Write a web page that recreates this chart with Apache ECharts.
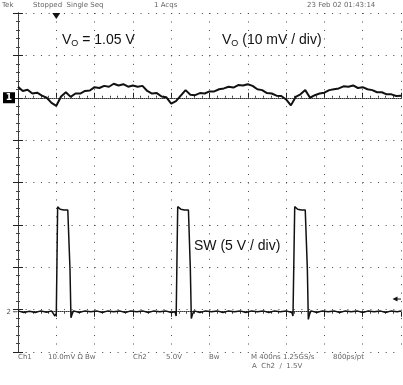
<!DOCTYPE html>
<html><head><meta charset="utf-8">
<script src="https://cdn.jsdelivr.net/npm/echarts@6/dist/echarts.min.js"></script>
<style>html,body{margin:0;padding:0;background:#fff}#c{width:403px;height:385px}</style>
</head><body><div id="c"></div>
<script>
// Time base: 400 ns / div, 10 divisions
const timeMinNs = 0, timeMaxNs = 4000, timeDivNs = 400;
// Ch1: Vo ripple (AC, mV), 10 mV/div
const voTimeNs = [0,50,100,150,200,250,300,350,400,450,500,550,600,650,700,750,800,850,900,950,
  1000,1050,1100,1150,1200,1250,1300,1350,1400,1450,1500,1550,1600,1650,1700,1750,1800,1850,1900,1950,
  2000,2050,2100,2150,2200,2250,2300,2350,2400,2450,2500,2550,2600,2650,2700,2750,2800,2850,2900,2950,
  3000,3050,3100,3150,3200,3250,3300,3350,3400,3450,3500,3550,3600,3650,3700,3750,3800,3850,3900,3950,4000];
const voMv = [2.6,1.6,1.9,1.0,1.2,0.5,0.0,-1.2,-1.9,0.3,1.3,0.2,1.0,1.0,1.6,1.7,2.5,2.3,2.8,2.6,
  3.3,2.9,3.2,2.6,2.9,2.6,2.8,1.6,1.0,1.1,0.3,0.1,-1.4,-0.8,0.5,1.8,0.7,0.6,1.1,1.0,
  1.5,1.5,2.0,2.2,2.6,2.4,3.0,2.9,3.2,2.8,2.0,1.8,1.1,1.0,0.5,0.4,-0.4,-1.8,0.2,0.8,
  1.8,0.0,0.6,1.0,1.2,1.8,2.0,2.2,2.7,2.6,2.9,2.3,2.5,2.0,1.8,1.3,1.3,0.8,0.8,0.4,0.5];
// Ch2: switch node (V), 5 V/div
const swTimeNs = [0,60,120,180,240,300,350,386,400,407,414,440,480,520,532,543,553,565,580,640,
  700,760,820,880,940,1000,1060,1120,1180,1240,1300,1360,1420,1480,1540,1600,1640,1652,1660,1668,
  1700,1740,1780,1790,1800,1810,1822,1840,1900,1960,2020,2080,2140,2200,2260,2320,2380,2440,2500,2560,
  2620,2680,2740,2800,2860,2872,2881,2890,2920,2960,3000,3012,3022,3032,3045,3060,3120,3180,3240,3300,
  3360,3420,3480,3540,3600,3660,3720,3780,3840,3900,3960,4000];
const swVolt = [0.1,-0.1,0.05,-0.1,0.1,-0.05,0.1,-0.5,-0.2,6.0,12.4,12.1,12.0,12.0,11.9,5.0,-0.7,-0.3,0.1,-0.1,
  0.1,0.0,0.1,-0.1,0.1,0.0,0.1,-0.1,0.1,0.0,0.1,-0.1,0.1,0.0,0.1,-0.1,0.0,-0.5,6.0,12.4,
  12.1,12.0,12.0,11.9,5.0,-0.8,-0.3,0.1,-0.1,0.1,0.0,0.1,-0.1,0.1,0.0,0.1,-0.1,0.1,0.0,0.1,
  -0.1,0.1,0.0,0.1,-0.1,-0.5,6.0,12.4,12.1,12.0,12.0,11.9,5.0,-0.9,-0.3,0.1,-0.1,0.1,0.0,0.1,
  -0.1,0.1,0.0,0.1,-0.1,0.1,0.0,0.1,-0.1,0.1,0.0,0.1];
const ch1Min = -60, ch1Max = 20, ch1Div = 10;
const ch2Min = -4.75, ch2Max = 35.25, ch2Div = 5;
const trigLevelV = 1.5, trigPosNs = 400;

const headerTexts = [['Tek',2],['Stopped  Single Seq',33],['1 Acqs',154],['23 Feb 02 01:43:14',307]];
const footer1 = [['Ch1',18],['10.0mV \u03A9 Bw',48],['Ch2',133],['5.0V',166],['Bw',209],['M 400ns 1.25GS/s',251],['800ps/pt',333]];
const footer2 = [['A  Ch2  /  1.5V',252]];

const voData = voTimeNs.map((t,i)=>[t, voMv[i]]);
const swData = swTimeNs.map((t,i)=>[t, swVolt[i]]);

const frameLine = {show:true, lineStyle:{color:'#333', width:1, type:[1,1]}};
const majTick = {show:true, inside:true, length:5, lineStyle:{color:'#222'}};
const minTick = {show:true, splitNumber:5, length:2, lineStyle:{color:'#444'}};
const small = {fontFamily:'DejaVu Sans', fontSize:7, fill:'#666'};

const graphic = [];
headerTexts.forEach(([t,x])=>graphic.push({type:'text', left:x, top:2, style:Object.assign({text:t}, small)}));
footer1.forEach(([t,x])=>graphic.push({type:'text', left:x, top:354, style:Object.assign({text:t}, small)}));
footer2.forEach(([t,x])=>graphic.push({type:'text', left:x, top:363, style:Object.assign({text:t}, small)}));
const rich = {a:{fontSize:14, fontFamily:'Liberation Sans', fill:'#111'}, s:{fontSize:9, fontFamily:'Liberation Sans', fill:'#111', padding:[7,0,0,0]}};
graphic.push({type:'text', left:62, top:33, style:{text:'{a|V}{s|O}{a| = 1.05 V}', rich:rich}});
graphic.push({type:'text', left:222, top:33, style:{text:'{a|V}{s|O}{a| (10 mV / div)}', rich:rich}});
graphic.push({type:'text', left:194, top:239, style:{text:'SW (5 V / div)', font:'14px "Liberation Sans"', fill:'#111'}});

const chart = echarts.init(document.getElementById('c'), null, {renderer:'canvas'});
chart.setOption({
  animation:false,
  backgroundColor:'#fff',
  grid:{left:18, top:13, width:383, height:339, containLabel:false},
  xAxis:[
    {type:'value', min:timeMinNs, max:timeMaxNs, interval:timeDivNs, position:'bottom',
     axisLine:frameLine, axisTick:majTick, minorTick:minTick, axisLabel:{show:false},
     splitLine:{show:true, lineStyle:{color:'#444', width:1, type:[1,7.475]}}},
    {type:'value', min:timeMinNs, max:timeMaxNs, interval:timeDivNs, position:'top',
     axisLine:frameLine, axisTick:majTick, minorTick:minTick, axisLabel:{show:false}, splitLine:{show:false}}
  ],
  yAxis:[
    {type:'value', min:ch1Min, max:ch1Max, interval:ch1Div, position:'left',
     axisLine:frameLine, axisTick:majTick, minorTick:minTick, axisLabel:{show:false},
     splitLine:{show:true, lineStyle:{color:'#444', width:1, type:[1,6.66]}}},
    {type:'value', min:ch2Min, max:ch2Max, interval:ch2Div, position:'right',
     axisLine:frameLine, axisTick:majTick, minorTick:minTick, axisLabel:{show:false}, splitLine:{show:false}}
  ],
  series:[
    {type:'line', name:'Vo', xAxisIndex:0, yAxisIndex:0, data:voData, symbol:'none',
     lineStyle:{color:'#111', width:2}, z:3,
     markPoint:{silent:true, data:[{coord:[timeMinNs,0], symbol:'rect', symbolSize:[12,11], symbolOffset:[-9,0],
       itemStyle:{color:'#000'}, label:{show:true, formatter:'1', color:'#fff', fontSize:9, fontWeight:'bold', fontFamily:'DejaVu Sans'}}]}},
    {type:'line', name:'SW', xAxisIndex:0, yAxisIndex:1, data:swData, symbol:'none',
     lineStyle:{color:'#111', width:1.5}, z:3,
     markPoint:{silent:true, data:[
       {coord:[timeMinNs,0], symbol:'rect', symbolSize:[4,1], symbolOffset:[-3,0], itemStyle:{color:'#555'},
        label:{show:true, formatter:'2', position:'left', distance:2, color:'#555', fontSize:7, fontFamily:'DejaVu Sans'}},
       {coord:[timeMaxNs,trigLevelV], symbol:'triangle', symbolRotate:90, symbolSize:[5,5], symbolOffset:[-6,0], itemStyle:{color:'#111'}, label:{show:false}},
       {coord:[timeMaxNs,trigLevelV], symbol:'rect', symbolSize:[6,1], symbolOffset:[-3,0], itemStyle:{color:'#111'}, label:{show:false}},
       {coord:[trigPosNs,ch2Max], symbol:'triangle', symbolRotate:180, symbolSize:[8,6], symbolOffset:[0,3], itemStyle:{color:'#111'}, label:{show:false}}
     ]}}
  ],
  graphic:graphic
});
</script></body></html>
